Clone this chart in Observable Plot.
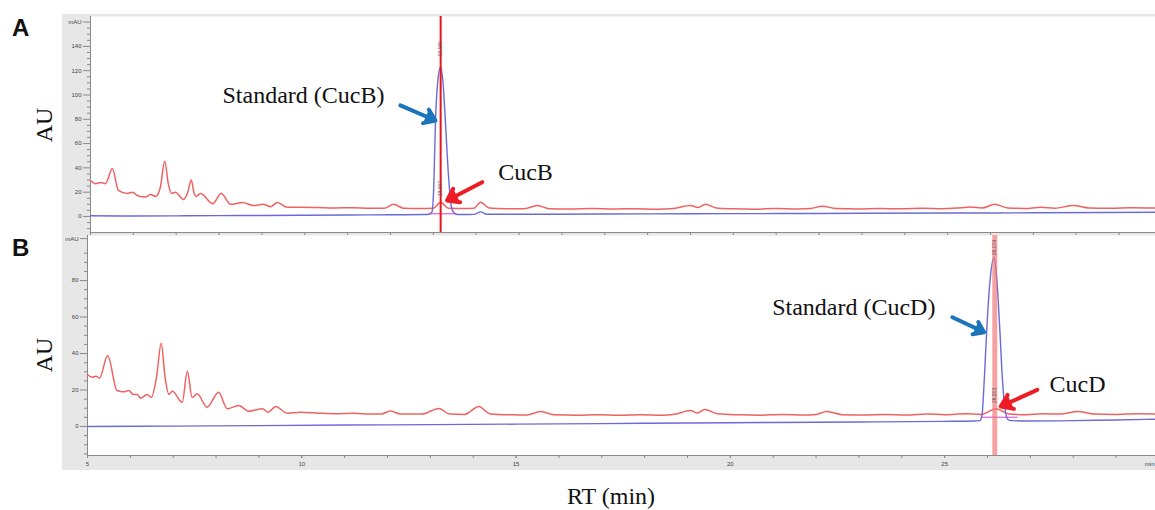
<!DOCTYPE html>
<html>
<head>
<meta charset="utf-8">
<script src="https://cdn.jsdelivr.net/npm/d3@7"></script>
<script src="https://cdn.jsdelivr.net/npm/@observablehq/plot@0.6"></script>
<style>
  html, body { margin: 0; padding: 0; }
  body { width: 1155px; height: 510px; position: relative; background: #fff; overflow: hidden; }
  .abs { position: absolute; }
  .letter { font-family: "Liberation Sans", Arial, sans-serif; font-weight: bold; font-size: 24px; line-height: 1; color: #111; }
  .serif { font-family: "Liberation Serif", "Times New Roman", serif; font-size: 24px; line-height: 1; color: #111; white-space: nowrap; }
  .au { transform: translate(-50%, -50%) rotate(-90deg); }
  .center { transform: translate(-50%, -50%); }
</style>
</head>
<body>
<div id="panelA" class="abs" style="left:62px; top:14px;"></div>
<div id="panelB" class="abs" style="left:62px; top:235px;"></div>
<div class="abs letter" style="left:12px; top:16px;">A</div>
<div class="abs letter" style="left:12px; top:236px;">B</div>
<div class="abs serif au" style="left:44px; top:125px;">AU</div>
<div class="abs serif au" style="left:44px; top:355px;">AU</div>
<div class="abs serif center" style="left:611px; top:496px;">RT (min)</div>
<script>
// ---------- DATA ----------
// Panel A: sample trace (red) [RT min, mAU]
const sampleA = [[5.00,29.6],[5.12,27.0],[5.23,28.0],[5.35,27.0],[5.51,39.5],[5.65,21.5],[5.86,19.0],[5.98,20.0],[6.10,17.0],[6.28,16.0],[6.40,18.0],[6.52,16.5],[6.63,24.0],[6.73,45.5],[6.82,26.0],[6.89,19.0],[6.98,20.0],[7.17,14.0],[7.27,20.0],[7.35,30.0],[7.42,19.0],[7.46,16.5],[7.57,19.0],[7.85,10.5],[8.05,19.0],[8.27,10.0],[8.55,11.5],[8.80,9.0],[9.03,10.0],[9.20,8.0],[9.36,11.5],[9.59,7.5],[9.90,7.5],[10.3,7.3],[10.7,7.0],[11.1,7.2],[11.5,6.8],[11.85,6.7],[12.07,10.0],[12.3,6.8],[12.7,6.6],[13.0,6.8],[13.17,11.8],[13.35,6.8],[13.7,6.5],[13.95,6.8],[14.10,11.8],[14.3,7.0],[14.7,6.4],[15.1,6.3],[15.43,9.0],[15.7,6.4],[16.2,6.1],[16.7,6.5],[17.2,6.1],[17.7,6.4],[18.2,6.0],[18.6,6.6],[19.0,9.0],[19.18,7.3],[19.35,10.0],[19.6,7.0],[20.0,6.3],[20.5,6.0],[21.0,6.5],[21.5,6.2],[21.8,6.5],[22.08,8.5],[22.4,6.5],[22.9,6.2],[23.4,6.6],[23.9,6.3],[24.4,6.8],[24.9,6.4],[25.2,6.9],[25.54,7.7],[25.8,6.9],[26.1,10.0],[26.4,7.0],[26.8,6.6],[27.17,7.5],[27.5,6.8],[27.94,9.0],[28.3,7.0],[28.8,6.8],[29.3,7.2],[29.85,7.0]];
// Panel A: standard CucB trace (blue)
const standardA = [[5.0,0.6],[6.0,0.4],[7.0,0.5],[8.0,0.7],[9.0,0.8],[10.0,1.0],[11.0,1.2],[12.0,1.4],[12.8,1.6],[12.9,1.8],[12.97,4.0],[13.01,25],[13.05,79],[13.10,110],[13.17,123],[13.23,108],[13.28,79],[13.35,35],[13.42,8],[13.48,3.0],[13.56,1.6],[13.95,1.7],[14.10,3.8],[14.25,1.8],[15.0,1.8],[17.0,2.0],[19.0,2.2],[21.0,2.4],[23.0,2.6],[25.0,2.8],[27.0,3.0],[29.85,3.5]];
// Panel B: sample trace (red)
const sampleB = [[5.00,28.5],[5.11,27.0],[5.20,27.5],[5.28,26.5],[5.47,38.9],[5.69,19.7],[5.84,19.0],[5.96,19.7],[6.07,17.5],[6.16,17.5],[6.24,15.5],[6.39,17.5],[6.49,16.0],[6.61,27.0],[6.72,45.6],[6.81,27.0],[6.90,17.5],[6.98,19.3],[7.21,13.3],[7.33,30.3],[7.44,15.9],[7.56,17.9],[7.79,10.6],[8.06,18.8],[8.26,9.7],[8.53,11.5],[8.76,8.4],[9.08,9.7],[9.22,7.8],[9.39,11.0],[9.66,7.3],[9.97,7.8],[10.4,7.3],[10.8,7.0],[11.2,7.2],[11.6,6.8],[11.85,6.8],[12.07,8.5],[12.3,6.8],[12.8,6.8],[13.2,9.9],[13.45,6.8],[13.8,6.6],[14.13,11.0],[14.4,6.9],[14.9,6.4],[15.25,6.3],[15.57,8.2],[15.9,6.4],[16.4,6.2],[16.9,6.5],[17.4,6.2],[17.9,6.5],[18.4,6.2],[18.7,6.7],[19.07,8.8],[19.22,7.4],[19.4,9.3],[19.7,7.0],[20.2,6.4],[20.7,6.2],[21.2,6.6],[21.7,6.3],[22.0,6.6],[22.25,8.2],[22.6,6.5],[23.1,6.3],[23.6,6.6],[24.1,6.3],[24.6,6.9],[25.0,6.5],[25.5,7.0],[25.85,6.6],[26.2,9.7],[26.5,6.8],[26.9,6.5],[27.3,7.0],[27.7,6.8],[28.1,8.2],[28.5,6.8],[29.0,6.6],[29.5,7.0],[29.92,6.9]];
// Panel B: standard CucD trace (blue)
const standardB = [[5.0,0.0],[7.0,0.2],[9.0,0.5],[11.0,0.8],[13.0,1.0],[15.0,1.3],[17.0,1.6],[19.0,1.9],[21.0,2.2],[23.0,2.5],[25.0,2.8],[25.7,3.0],[25.82,3.2],[25.87,6],[25.93,28],[25.98,52],[26.06,80],[26.15,92.8],[26.22,80],[26.29,52],[26.35,25],[26.42,8],[26.47,4],[26.55,3.2],[27.0,3.0],[28.0,3.2],[29.0,3.6],[29.92,4.0]];

// integration baselines [x1, x2, y]
const baselineA = [[12.89, 13.52, 2.2]];
const baselineB = [[25.84, 26.70, 5.1]];
// cursor (peak retention time)
const cursorA = [13.17];
const cursorB = [26.17];
// small peak labels [x, y, text]
const peakLabelsA = [[13.17, 138, "13.190"], [13.17, 23, "13.207"]];
const peakLabelsB = [[26.17, 98, "26.174"], [26.17, 17, "26.203"]];
// annotations
const labelsA = [[9.97, 99.6, "Standard (CucB)"], [15.15, 36.5, "CucB"]];
const labelsB = [[22.88, 65.2, "Standard (CucD)"], [28.10, 23.0, "CucD"]];
// arrows [x1, y1, x2, y2, colour]
const arrowsA = [[12.23, 91.4, 13.05, 79.0, "#1b75bb"], [14.14, 28.2, 13.32, 13.2, "#ee1c24"]];
const arrowsB = [[25.18, 59.9, 25.92, 51.7, "#1b75bb"], [27.16, 20.1, 26.31, 11.0, "#ee1c24"]];

// axes
const xMinorTicks = [5,6,7,8,9,10,11,12,13,14,15,16,17,18,19,20,21,22,23,24,25,26,27,28,29];
const xMajorTicks = [5,10,15,20,25];
const yMajorA = [0,20,40,60,80,100,120,140,160];
const yMinorA = [-10,-5,5,10,15,25,30,35,45,50,55,65,70,75,85,90,95,105,110,115,125,130,135,145,150,155];
const yMajorB = [0,20,40,60,80,103];
const yMinorB = [-15,-10,-5,5,10,15,25,30,35,45,50,55,65,70,75,85,90,95];

const RED = "#ef6262";
const BLUE = "#6b6bd8";
const AXIS = "#8a8a8a";
const FONT = '"Liberation Sans", Arial, sans-serif';

function panel(o) {
  return Plot.plot({
    width: 1093,
    height: o.height,
    marginLeft: o.marginLeft,
    marginRight: 0,
    marginTop: o.marginTop,
    marginBottom: o.marginBottom,
    style: { background: "#e7e7e7", fontSize: "6px", fontFamily: FONT, color: "#444", overflow: "visible" },
    x: { domain: o.xDomain, axis: null },
    y: { domain: o.yDomain, axis: null },
    marks: [
      Plot.frame({ fill: "white", stroke: null }),
      Plot.axisY(o.yMajor, { tickSize: 7, tickPadding: 2, stroke: AXIS, label: null, tickFormat: d => d > o.mauAt - 1 ? "mAU" : d }),
      Plot.axisY(o.yMinor, { tickSize: 3, stroke: AXIS, label: null, tickFormat: () => "" }),
      Plot.axisX(xMinorTicks, { anchor: "bottom", tickSize: 3, stroke: AXIS, label: null, tickFormat: () => "" }),
      o.showX ? Plot.axisX(xMajorTicks, { anchor: "bottom", tickSize: 3, tickPadding: 3, stroke: AXIS, label: null }) : null,
      o.showX ? Plot.text(["min"], { frameAnchor: "bottom-right", dy: 10, dx: -1, textAnchor: "end", fill: "#444" }) : null,
      Plot.ruleX([o.xDomain[0]], { stroke: AXIS }),
      Plot.ruleY([o.yDomain[0]], { stroke: AXIS }),
      Plot.line(o.sample, { x: d => d[0], y: d => d[1], stroke: RED, strokeWidth: 1.5, curve: "monotone-x" }),
      Plot.line(o.standard, { x: d => d[0], y: d => d[1], stroke: BLUE, strokeWidth: 1.4, curve: "monotone-x" }),
      Plot.link(o.baseline, { x1: d => d[0], x2: d => d[1], y1: d => d[2], y2: d => d[2], stroke: "#d040d0", strokeWidth: 1 }),
      Plot.ruleX(o.cursor, { stroke: o.cursorColor, strokeWidth: o.cursorWidth, strokeOpacity: o.cursorOpacity }),
      Plot.text(o.peakLabels, { x: d => d[0], y: d => d[1], text: d => d[2], rotate: -90, fontSize: 5, fill: "#555" }),
      Plot.arrow(o.arrows, { x1: d => d[0], y1: d => d[1], x2: d => d[2], y2: d => d[3], stroke: d => d[4], fill: d => d[4], strokeWidth: 4, headLength: 10, headAngle: 70, inset: 0 }),
      Plot.text(o.labels, { x: d => d[0], y: d => d[1], text: d => d[2], fontSize: 24, fontFamily: '"Liberation Serif", "Times New Roman", serif', fill: "#111" })
    ]
  });
}

const chartA = panel({
  height: 221, marginLeft: 28, marginTop: 2, marginBottom: 3,
  xDomain: [5, 29.85], yDomain: [-13.2, 164.6],
  yMajor: yMajorA, yMinor: yMinorA, mauAt: 160, showX: false,
  sample: sampleA, standard: standardA, baseline: baselineA,
  cursor: cursorA, cursorColor: "#e8141c", cursorWidth: 2, cursorOpacity: 1,
  peakLabels: peakLabelsA, arrows: arrowsA, labels: labelsA
});
const chartB = panel({
  height: 235, marginLeft: 25, marginTop: 0, marginBottom: 15,
  xDomain: [5, 29.92], yDomain: [-15.9, 104.7],
  yMajor: yMajorB, yMinor: yMinorB, mauAt: 103, showX: true,
  sample: sampleB, standard: standardB, baseline: baselineB,
  cursor: cursorB, cursorColor: "#ef7070", cursorWidth: 5, cursorOpacity: 0.65,
  peakLabels: peakLabelsB, arrows: arrowsB, labels: labelsB
});
document.getElementById("panelA").appendChild(chartA);
document.getElementById("panelB").appendChild(chartB);
</script>
</body>
</html>
